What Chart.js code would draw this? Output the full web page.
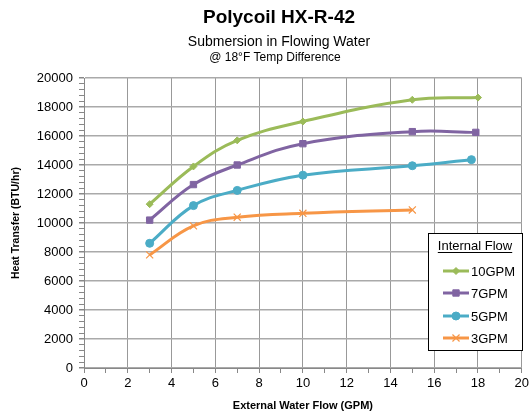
<!DOCTYPE html>
<html>
<head>
<meta charset="utf-8">
<script src="https://cdn.jsdelivr.net/npm/chart.js"></script>
<style>
  html, body { margin: 0; padding: 0; background: #fff; }
  #wrap { width: 532px; height: 414px; position: relative; }
</style>
</head>
<body>
<div id="wrap"><canvas id="chart"></canvas></div>
<script>
// values
var titleText = "Polycoil HX-R-42";
var subtitleText = "Submersion in Flowing Water";
var noteText = "@ 18°F Temp Difference";
var legendTitle = "Internal Flow";

var seriesLabels = ["10GPM", "7GPM", "5GPM", "3GPM"];
var flow10x = [3, 5, 7, 10, 15, 18];
var flow10y = [11300, 13900, 15700, 17000, 18500, 18650];
var flow7x = [3, 5, 7, 10, 15, 17.9];
var flow7y = [10200, 12650, 14000, 15470, 16300, 16250];
var flow5x = [3, 5, 7, 10, 15, 17.7];
var flow5y = [8600, 11200, 12250, 13300, 13950, 14370];
var flow3x = [3, 5, 7, 10, 15];
var flow3y = [7800, 9800, 10400, 10670, 10900];

var seriesColors = ['#9BBB59', '#8064A2', '#4BACC6', '#F79646'];
var pointStyles = ['rectRot', 'rect', 'circle', 'crossRot'];
var pointSizes = [3.5, 4.5, 4, 5];

var FONT = '"Liberation Sans", Arial, sans-serif';

function toPoints(xs, ys) {
    var pts = [];
    for (let i = 0; i < xs.length; i++) { pts.push({x: xs[i], y: ys[i]}); }
    return pts;
}
var allData = [toPoints(flow10x, flow10y), toPoints(flow7x, flow7y), toPoints(flow5x, flow5y), toPoints(flow3x, flow3y)];

var datasets = [];
for (let i = 0; i < 4; i++) {
    datasets.push({
        label: seriesLabels[i],
        data: allData[i],
        borderColor: seriesColors[i],
        backgroundColor: seriesColors[i],
        borderWidth: 3,
        tension: 0.4,
        pointStyle: pointStyles[i],
        pointRadius: pointSizes[i],
        pointBorderWidth: i === 3 ? 1.2 : 1,
        pointBorderColor: seriesColors[i],
        pointBackgroundColor: seriesColors[i]
    });
}

// heading lines above the plot
var headingPlugin = {
    id: 'headings',
    afterDraw: function(chart) {
        var ctx = chart.ctx;
        ctx.save();
        ctx.fillStyle = '#000';
        ctx.textAlign = 'center';
        ctx.textBaseline = 'middle';
        ctx.font = 'bold 19px ' + FONT;
        ctx.fillText(titleText, 279, 18);
        ctx.font = '14px ' + FONT;
        ctx.fillText(subtitleText, 279, 42);
        ctx.font = '12px ' + FONT;
        ctx.fillText(noteText, 275, 58);
        ctx.restore();
    }
};

// boxed legend inside the plot area, like the original
var boxLegendPlugin = {
    id: 'boxLegend',
    afterDraw: function(chart) {
        var ctx = chart.ctx;
        var left = 428.5, top = 233.5, w = 94, h = 117;
        ctx.save();
        ctx.fillStyle = '#fff';
        ctx.fillRect(left, top, w, h);
        ctx.strokeStyle = '#000';
        ctx.lineWidth = 1;
        ctx.strokeRect(left, top, w, h);
        ctx.fillStyle = '#000';
        ctx.font = '13px ' + FONT;
        ctx.textAlign = 'center';
        ctx.textBaseline = 'middle';
        ctx.fillText(legendTitle, 475, 246);
        var tw = ctx.measureText(legendTitle).width;
        ctx.fillRect(475 - tw / 2, 252, tw, 1);
        var rows = [271, 293, 316, 338];
        chart.data.datasets.forEach(function(ds, i) {
            var y = rows[i];
            ctx.strokeStyle = ds.borderColor;
            ctx.lineWidth = 3;
            ctx.beginPath();
            ctx.moveTo(443, y);
            ctx.lineTo(469, y);
            ctx.stroke();
            if (Chart.helpers && Chart.helpers.drawPoint) {
                ctx.fillStyle = ds.backgroundColor;
                ctx.lineWidth = ds.pointBorderWidth;
                Chart.helpers.drawPoint(ctx, {pointStyle: ds.pointStyle, radius: ds.pointRadius, borderWidth: ds.pointBorderWidth, rotation: 0}, 456, y);
            }
            ctx.fillStyle = '#000';
            ctx.textAlign = 'left';
            ctx.fillText(ds.label, 471, y + 1);
        });
        ctx.restore();
    }
};

new Chart(document.getElementById('chart'), {
    type: 'line',
    data: { datasets: datasets },
    plugins: [headingPlugin, boxLegendPlugin],
    options: {
        responsive: true,
        maintainAspectRatio: false,
        animation: false,
        layout: { padding: { top: 78, right: 7, left: 0, bottom: 0 } },
        plugins: {
            legend: { display: false },
            title: { display: false },
            tooltip: { enabled: false }
        },
        scales: {
            x: {
                type: 'linear',
                min: 0,
                max: 20,
                afterFit: function(scale) { scale.height = 46; },
                ticks: {
                    stepSize: 1,
                    autoSkip: false,
                    maxRotation: 0,
                    padding: 3,
                    color: '#000',
                    font: { family: FONT, size: 13 },
                    callback: function(v) { return v % 2 === 0 ? v : ''; }
                },
                grid: {
                    color: function(c) { return (c.tick && c.tick.value % 2 === 0) ? '#999' : 'rgba(0,0,0,0)'; },
                    tickColor: '#888',
                    tickLength: 5,
                    lineWidth: 1
                },
                border: { color: '#888', width: 1 },
                title: {
                    display: true,
                    text: 'External Water Flow (GPM)',
                    color: '#000',
                    font: { family: FONT, size: 11, weight: 'bold' },
                    padding: { top: 0, bottom: 1 }
                }
            },
            y: {
                min: 0,
                max: 20000,
                afterFit: function(scale) { scale.width = 84; },
                ticks: {
                    stepSize: 400,
                    autoSkip: false,
                    padding: 6,
                    color: '#000',
                    font: { family: FONT, size: 13 },
                    callback: function(v) { return v % 2000 === 0 ? v : ''; }
                },
                grid: {
                    color: function(c) { return (c.tick && c.tick.value % 2000 === 0) ? '#aaa' : 'rgba(0,0,0,0)'; },
                    tickColor: '#888',
                    tickLength: 5,
                    lineWidth: function(c) { return (c.tick && c.tick.value % 2000 === 0) ? 1.5 : 1; }
                },
                border: { color: '#888', width: 1 },
                title: {
                    display: true,
                    text: 'Heat Transfer (BTU/hr)',
                    color: '#000',
                    font: { family: FONT, size: 10.5, weight: 'bold' },
                    padding: { top: 10, bottom: 0 }
                }
            }
        }
    }
});
</script>
</body>
</html>
